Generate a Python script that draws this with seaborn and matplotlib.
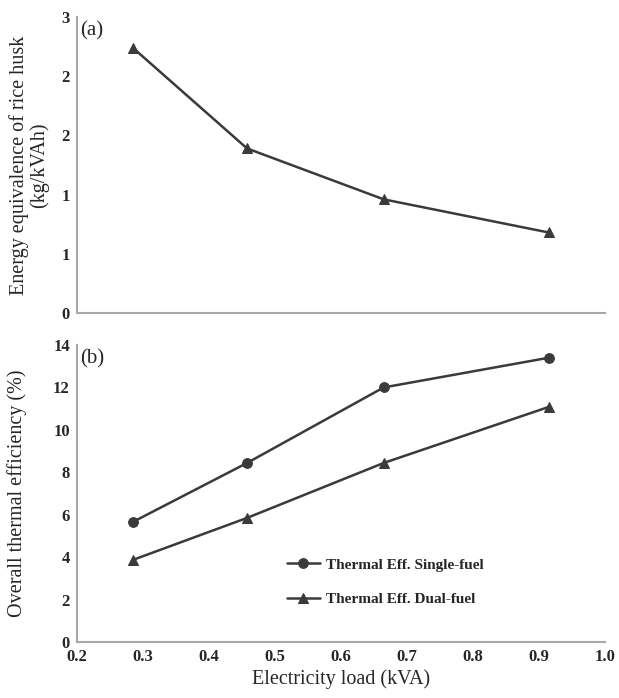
import pandas as pd
import seaborn as sns
import matplotlib.pyplot as plt

# values
load_kva = [0.285, 0.458, 0.665, 0.915]
rice_husk_equiv = [2.24, 1.39, 0.96, 0.68]
eff_single = [5.66, 8.44, 12.0, 13.4]
eff_dual = [3.87, 5.85, 8.44, 11.08]

series_names = ["Thermal Eff. Single-fuel", "Thermal Eff. Dual-fuel"]
top_yticks = [0, 0.5, 1.0, 1.5, 2.0, 2.5]
top_ytick_labels = ["0", "1", "1", "2", "2", "3"]
bottom_yticks = [0, 2, 4, 6, 8, 10, 12, 14]
xticks = [0.2, 0.3, 0.4, 0.5, 0.6, 0.7, 0.8, 0.9, 1.0]

sns.set_theme(style="white")
plt.rcParams['font.family'] = ['Liberation Serif', 'DejaVu Serif']

line_col = '#3a3a3a'
spine_col = '#a8a8a8'

fig = plt.figure(figsize=(6.19, 6.98), dpi=100)
ax_top = fig.add_axes([0.124, 0.5516, 0.853, 0.424])
ax_bot = fig.add_axes([0.124, 0.0802, 0.853, 0.4255])

# (a) energy equivalence of rice husk
top_df = pd.DataFrame({'load': load_kva, 'husk': rice_husk_equiv})
sns.lineplot(data=top_df, x='load', y='husk', ax=ax_top, color=line_col,
             marker='^', markersize=7, markeredgecolor=line_col, linewidth=1.8)
ax_top.set_ylim(0, 2.5)
ax_top.set_yticks(top_yticks)
ax_top.set_yticklabels(top_ytick_labels)
ax_top.set_xlim(0.2, 1.0)
ax_top.set_xticks(xticks)
ax_top.set_xticklabels([])
ax_top.set_xlabel('')
ax_top.set_ylabel('Energy equivalence of rice husk\n(kg/kVAh)', fontsize=14.5, linespacing=1.05)
ax_top.text(0.007, 0.985, '(a)', transform=ax_top.transAxes, fontsize=15, va='top', ha='left')

# (b) overall thermal efficiency
bot_df = pd.DataFrame({
    'load': load_kva * 2,
    'eff': eff_single + eff_dual,
    'series': [series_names[0]] * len(load_kva) + [series_names[1]] * len(load_kva),
})
sns.lineplot(data=bot_df, x='load', y='eff', hue='series', style='series', ax=ax_bot,
             palette=[line_col, line_col], markers={series_names[0]: 'o', series_names[1]: '^'},
             dashes=False, markersize=7, markeredgecolor=line_col, linewidth=1.8)
ax_bot.set_ylim(0, 14)
ax_bot.set_yticks(bottom_yticks)
ax_bot.set_xlim(0.2, 1.0)
ax_bot.set_xticks(xticks)
ax_bot.set_xticklabels([f"{v:.1f}" for v in xticks])
ax_bot.set_xlabel('Electricity load (kVA)', fontsize=14.5, labelpad=3)
ax_bot.set_ylabel('Overall thermal efficiency (%)', fontsize=14.5)
ax_bot.text(0.007, 0.985, '(b)', transform=ax_bot.transAxes, fontsize=15, va='top', ha='left')

leg = ax_bot.legend(loc='upper left', bbox_to_anchor=(0.386, 0.303), frameon=False,
                    fontsize=11, labelspacing=1.35, handlelength=2.2, handletextpad=0.4,
                    borderaxespad=0)
for t in leg.get_texts():
    t.set_fontweight('bold')

for ax in (ax_top, ax_bot):
    sns.despine(ax=ax)
    for side in ('left', 'bottom'):
        ax.spines[side].set_color(spine_col)
        ax.spines[side].set_linewidth(1.5)
    ax.tick_params(axis='both', length=0, labelsize=12, pad=5)
    for lab in ax.get_xticklabels() + ax.get_yticklabels():
        lab.set_fontweight('bold')

ax_top.yaxis.set_label_coords(-0.052, 0.5)
ax_bot.yaxis.set_label_coords(-0.095, 0.5)

fig.savefig('out.png', dpi=100)
